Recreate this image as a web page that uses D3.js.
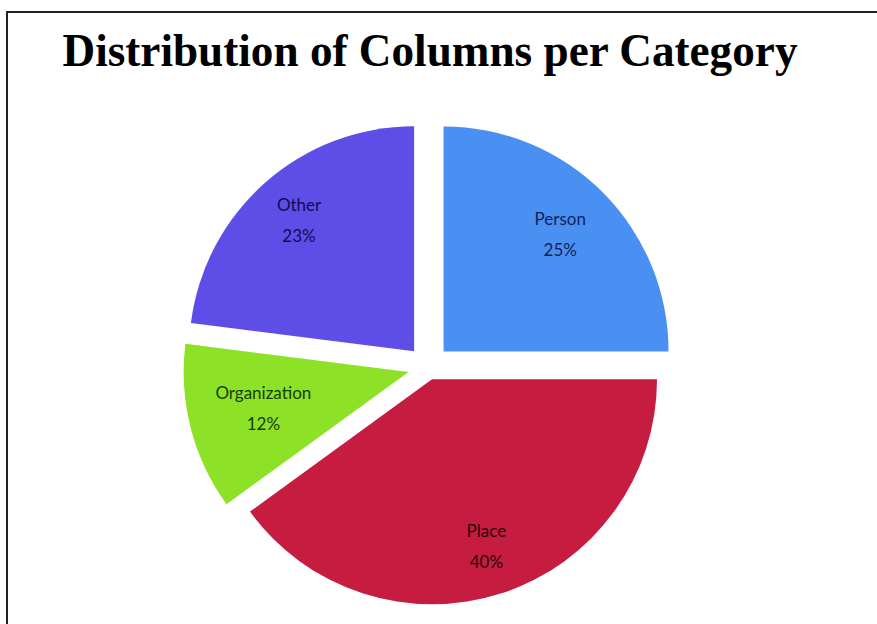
<!DOCTYPE html>
<html>
<head>
<meta charset="utf-8">
<script src="https://cdn.jsdelivr.net/npm/d3@7"></script>
<style>
  body { margin: 0; background: #fff; }
  svg { display: block; }
  .title { font-family: "Liberation Serif", "Times New Roman", serif; font-weight: bold; }
  .lbl { font-family: Lato, "Open Sans", sans-serif; font-size: 17px; }
</style>
</head>
<body>
<svg id="chart" width="877" height="624"></svg>
<script>
// data
var categories = ['Person', 'Place', 'Organization', 'Other'];
var shares = [25, 40, 12, 23];

// style per slice
var fills = ['#4a8ff2', '#c51c40', '#8de228', '#5f4de8'];
var textFills = ['#0f1f58', '#26040c', '#173c06', '#120b4f'];
var explode = [22, 13, 20, 21];
var labelR = [165, 176, 150, 174];

var W = 877, H = 624;
var cx = 428, cy = 367, R = 225;

var svg = d3.select('#chart');

// frame lines (top + left)
svg.append('path')
    .attr('d', 'M7,' + H + 'V12H' + W)
    .attr('fill', 'none')
    .attr('stroke', '#222')
    .attr('stroke-width', 2);

svg.append('text')
    .attr('class', 'title')
    .attr('x', 430)
    .attr('y', 66)
    .attr('text-anchor', 'middle')
    .attr('font-size', 46)
    .attr('textLength', 735)
    .attr('lengthAdjust', 'spacingAndGlyphs')
    .text('Distribution of Columns per Category');

var rows = categories.map(function(c, i) { return { name: c, value: shares[i], i: i }; });

var pie = d3.pie().sort(null).value(function(d) { return d.value; });
var arc = d3.arc().innerRadius(0).outerRadius(R);

var g = svg.append('g').attr('transform', 'translate(' + cx + ',' + cy + ')');

var slices = g.selectAll('.slice')
    .data(pie(rows))
    .enter().append('g')
    .attr('class', 'slice')
    .attr('transform', function(d) {
        var a = (d.startAngle + d.endAngle) / 2;
        var e = explode[d.data.i];
        return 'translate(' + (Math.sin(a) * e) + ',' + (-Math.cos(a) * e) + ')';
    });

slices.append('path')
    .attr('d', arc)
    .attr('fill', function(d) { return fills[d.data.i]; });

var labels = slices.append('text')
    .attr('class', 'lbl')
    .attr('text-anchor', 'middle')
    .attr('fill', function(d) { return textFills[d.data.i]; })
    .attr('transform', function(d) {
        var r = labelR[d.data.i];
        return 'translate(' + d3.arc().innerRadius(r).outerRadius(r).centroid(d) + ')';
    });

labels.append('tspan')
    .attr('x', 0)
    .attr('y', -10)
    .text(function(d) { return d.data.name; });

labels.append('tspan')
    .attr('x', 0)
    .attr('y', 21)
    .text(function(d) { return d.data.value + '%'; });
</script>
</body>
</html>
